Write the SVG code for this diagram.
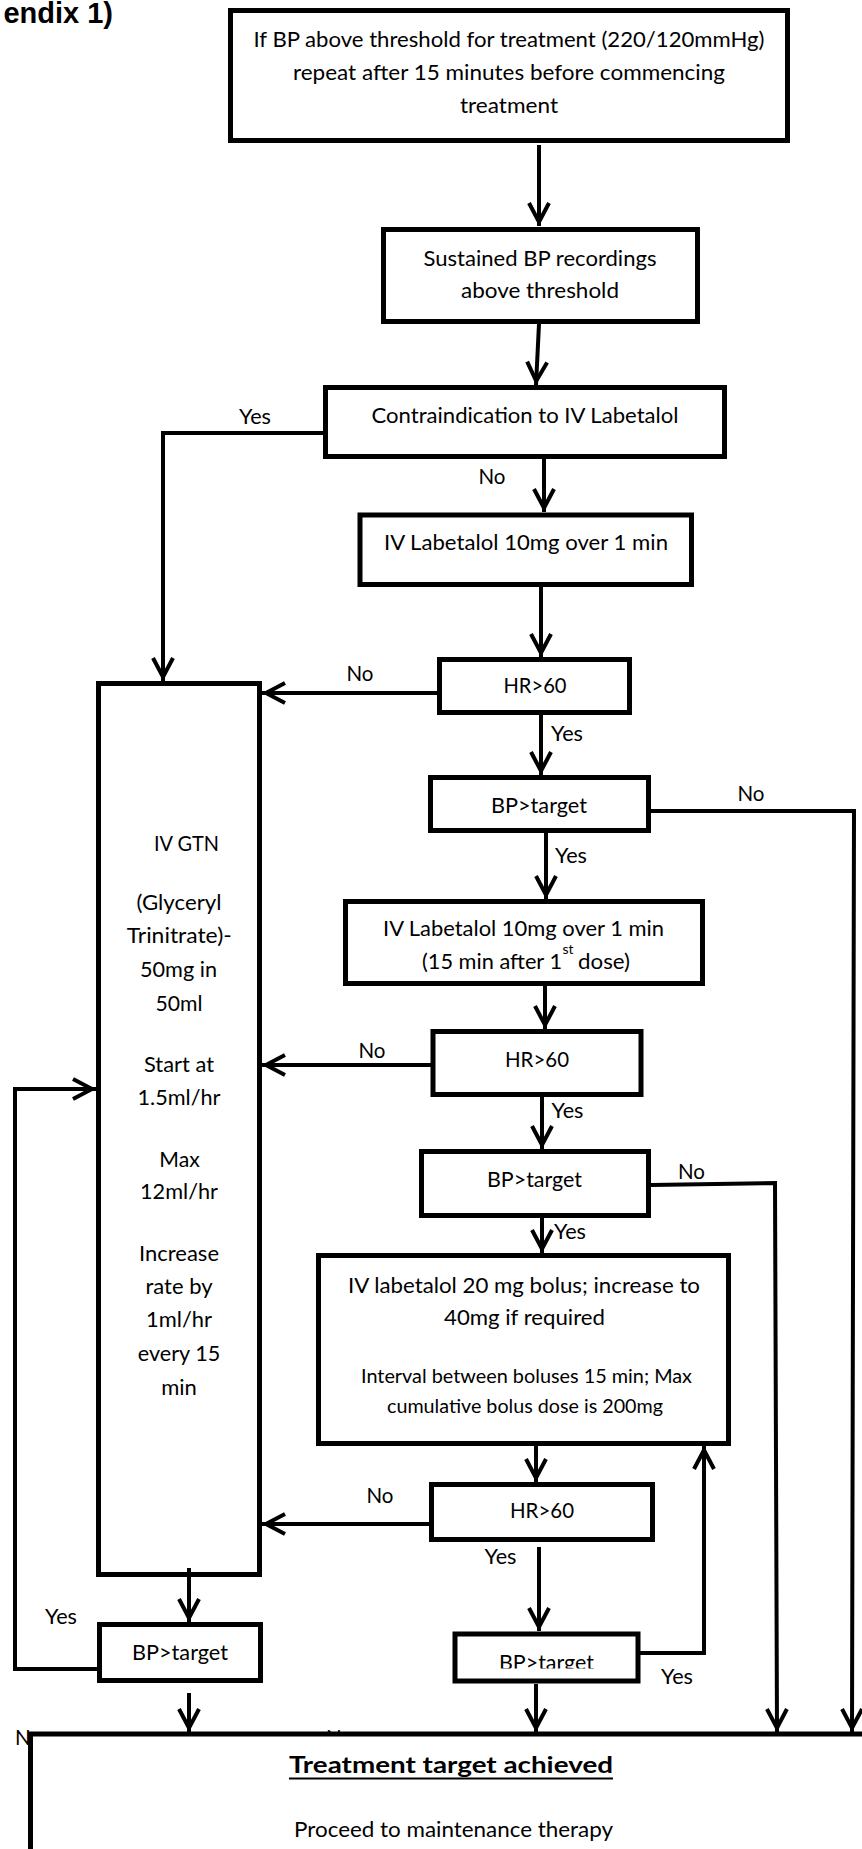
<svg xmlns="http://www.w3.org/2000/svg" width="862" height="1849" viewBox="0 0 862 1849">
<style>
.box{fill:#fff;stroke:#000;stroke-width:5}
.t{font-family:Lato,'Open Sans','Liberation Sans',sans-serif;font-size:22px;fill:#000;text-anchor:middle}
.s{font-size:19.5px}
.st{font-size:13px;text-anchor:start}
.ls{text-anchor:start}
.c{fill:none;stroke:#000;stroke-width:4;stroke-linejoin:miter;marker-end:url(#ah)}
.title{font-family:'Liberation Sans',Arial,sans-serif;font-weight:bold;font-size:29px;text-anchor:end}
</style>
<defs>
<marker id="ah" markerUnits="userSpaceOnUse" viewBox="-28 -14 32 28" markerWidth="32" markerHeight="28" refX="0" refY="0" orient="auto">
<path d="M-23,-10 L-4,0 L-23,10" fill="none" stroke="#000" stroke-width="4"/>
</marker>
<clipPath id="bp4clip"><rect x="455" y="1634" width="183" height="34.5"/></clipPath>
</defs>

<text class="title" x="113" y="23">endix 1)</text>

<g id="box1"><rect class="box" x="230.5" y="10.5" width="557" height="130"/>
<text class="t" x="509" y="47" textLength="511" lengthAdjust="spacingAndGlyphs">If BP above threshold for treatment (220/120mmHg)</text>
<text class="t" x="509" y="80" textLength="432" lengthAdjust="spacingAndGlyphs">repeat after 15 minutes before commencing</text>
<text class="t" x="509" y="113" textLength="98" lengthAdjust="spacingAndGlyphs">treatment</text></g>

<g id="box2"><rect class="box" x="383.5" y="229.5" width="314" height="92"/>
<text class="t" x="540" y="266" textLength="233" lengthAdjust="spacingAndGlyphs">Sustained BP recordings</text>
<text class="t" x="540" y="298" textLength="158" lengthAdjust="spacingAndGlyphs">above threshold</text></g>

<g id="box3"><rect class="box" x="325.5" y="387.5" width="399" height="69"/>
<text class="t" x="525" y="423" textLength="307" lengthAdjust="spacingAndGlyphs">Contraindication to IV Labetalol</text></g>

<g id="box4"><rect class="box" x="360" y="515" width="331.5" height="69.5"/>
<text class="t" x="526" y="550" textLength="284" lengthAdjust="spacingAndGlyphs">IV Labetalol 10mg over 1 min</text></g>

<g id="hr1"><rect class="box" x="439.5" y="659.5" width="190" height="53"/>
<text class="t" x="535" y="693" textLength="63" lengthAdjust="spacingAndGlyphs">HR&gt;60</text></g>

<g id="gtn"><rect class="box" x="98.5" y="683.5" width="161" height="891"/>
<text class="t" x="186.5" y="851" textLength="65" lengthAdjust="spacingAndGlyphs">IV GTN</text>
<text class="t" x="179" y="910" textLength="85" lengthAdjust="spacingAndGlyphs">(Glyceryl</text>
<text class="t" x="179.3" y="943" textLength="105" lengthAdjust="spacingAndGlyphs">Trinitrate)-</text>
<text class="t" x="178.5" y="977" textLength="77" lengthAdjust="spacingAndGlyphs">50mg in</text>
<text class="t" x="179" y="1010.5" textLength="47" lengthAdjust="spacingAndGlyphs">50ml</text>
<text class="t" x="179" y="1071.5" textLength="70" lengthAdjust="spacingAndGlyphs">Start at</text>
<text class="t" x="179" y="1105" textLength="83" lengthAdjust="spacingAndGlyphs">1.5ml/hr</text>
<text class="t" x="179.5" y="1166.5" textLength="40.5" lengthAdjust="spacingAndGlyphs">Max</text>
<text class="t" x="179" y="1199" textLength="78" lengthAdjust="spacingAndGlyphs">12ml/hr</text>
<text class="t" x="179" y="1260.5" textLength="80" lengthAdjust="spacingAndGlyphs">Increase</text>
<text class="t" x="179" y="1294" textLength="67" lengthAdjust="spacingAndGlyphs">rate by</text>
<text class="t" x="179" y="1327" textLength="66" lengthAdjust="spacingAndGlyphs">1ml/hr</text>
<text class="t" x="179" y="1361" textLength="82.5" lengthAdjust="spacingAndGlyphs">every 15</text>
<text class="t" x="179" y="1395" textLength="35.7" lengthAdjust="spacingAndGlyphs">min</text></g>

<g id="bp1"><rect class="box" x="430.5" y="777.5" width="218" height="53"/>
<text class="t" x="539" y="813" textLength="96" lengthAdjust="spacingAndGlyphs">BP&gt;target</text></g>

<g id="box5"><rect class="box" x="345.5" y="901.5" width="357" height="82"/>
<text class="t" x="523.5" y="936" textLength="281" lengthAdjust="spacingAndGlyphs">IV Labetalol 10mg over 1 min</text>
<text class="t ls" x="422" y="969" textLength="140" lengthAdjust="spacingAndGlyphs">(15 min after 1</text>
<text class="t st" x="562.5" y="954" textLength="11" lengthAdjust="spacingAndGlyphs">st</text>
<text class="t ls" x="578" y="969" textLength="52" lengthAdjust="spacingAndGlyphs">dose)</text></g>

<g id="hr2"><rect class="box" x="433" y="1031.5" width="208" height="63"/>
<text class="t" x="537" y="1067" textLength="64" lengthAdjust="spacingAndGlyphs">HR&gt;60</text></g>

<g id="bp2"><rect class="box" x="421.5" y="1151.5" width="227" height="64"/>
<text class="t" x="534.5" y="1187" textLength="95" lengthAdjust="spacingAndGlyphs">BP&gt;target</text></g>

<g id="box6"><rect class="box" x="318.5" y="1255.5" width="410" height="188"/>
<text class="t" x="524" y="1292.5" textLength="352" lengthAdjust="spacingAndGlyphs">IV labetalol 20 mg bolus; increase to</text>
<text class="t" x="524.5" y="1325" textLength="161" lengthAdjust="spacingAndGlyphs">40mg if required</text>
<text class="t s" x="526.5" y="1383" textLength="331" lengthAdjust="spacingAndGlyphs">Interval between boluses 15 min; Max</text>
<text class="t s" x="525" y="1413" textLength="276" lengthAdjust="spacingAndGlyphs">cumulative bolus dose is 200mg</text></g>

<g id="hr3"><rect class="box" x="431.5" y="1484.5" width="221" height="55"/>
<text class="t" x="542" y="1518" textLength="64" lengthAdjust="spacingAndGlyphs">HR&gt;60</text></g>

<g id="bp3"><rect class="box" x="99.5" y="1624.5" width="161" height="56"/>
<text class="t" x="180" y="1660" textLength="96" lengthAdjust="spacingAndGlyphs">BP&gt;target</text></g>

<g id="bp4"><rect class="box" x="455" y="1634" width="183" height="47"/>
<text class="t" x="546.5" y="1670" textLength="95" lengthAdjust="spacingAndGlyphs" clip-path="url(#bp4clip)">BP&gt;target</text></g>

<g id="connectors">
<path class="c" d="M539,145 L539,226"/>
<path class="c" d="M539,324 L536,385"/>
<path class="c" d="M323,433 L163,433 L163,681"/>
<path class="c" d="M544,459 L544,512"/>
<path class="c" d="M541,587 L541,657"/>
<path class="c" d="M437,693 L262,693"/>
<path class="c" d="M541,715 L541,775"/>
<path class="c" d="M651,811 L854,811 L852,1732"/>
<path class="c" d="M546,833 L546,899"/>
<path class="c" d="M545,986 L545,1029"/>
<path class="c" d="M431,1065 L262,1065"/>
<path class="c" d="M542,1096 L542,1149"/>
<path class="c" d="M651,1185 L775,1183 L777,1732"/>
<path class="c" d="M542,1218 L542,1253"/>
<path class="c" d="M536,1446 L536,1482"/>
<path class="c" d="M429,1524 L262,1524"/>
<path class="c" d="M539,1547 L539,1631"/>
<path class="c" d="M640,1653 L704,1653 L704,1446"/>
<path class="c" d="M189,1568 L189,1622"/>
<path class="c" d="M97,1669 L15,1669 L15,1089 L96,1089"/>
<path class="c" d="M189,1693 L189,1732"/>
<path class="c" d="M536,1684 L536,1732"/>
<g id="labels">
<text class="t" x="255" y="424" textLength="32" lengthAdjust="spacingAndGlyphs">Yes</text>
<text class="t" x="492" y="484" textLength="27" lengthAdjust="spacingAndGlyphs">No</text>
<text class="t" x="360" y="681" textLength="27" lengthAdjust="spacingAndGlyphs">No</text>
<text class="t" x="567" y="741" textLength="32" lengthAdjust="spacingAndGlyphs">Yes</text>
<text class="t" x="751" y="801" textLength="27" lengthAdjust="spacingAndGlyphs">No</text>
<text class="t" x="571" y="863" textLength="32" lengthAdjust="spacingAndGlyphs">Yes</text>
<text class="t" x="372" y="1058" textLength="27" lengthAdjust="spacingAndGlyphs">No</text>
<text class="t" x="567.5" y="1118" textLength="32" lengthAdjust="spacingAndGlyphs">Yes</text>
<text class="t" x="691.5" y="1179" textLength="27" lengthAdjust="spacingAndGlyphs">No</text>
<text class="t" x="570" y="1239" textLength="32" lengthAdjust="spacingAndGlyphs">Yes</text>
<text class="t" x="380" y="1503" textLength="27" lengthAdjust="spacingAndGlyphs">No</text>
<text class="t" x="500.5" y="1564" textLength="32" lengthAdjust="spacingAndGlyphs">Yes</text>
<text class="t" x="61" y="1624" textLength="32" lengthAdjust="spacingAndGlyphs">Yes</text>
<text class="t" x="677" y="1684" textLength="32" lengthAdjust="spacingAndGlyphs">Yes</text>
<text class="t ls" x="15" y="1745" textLength="27" lengthAdjust="spacingAndGlyphs">No</text>
<text class="t ls" x="326" y="1745" textLength="27" lengthAdjust="spacingAndGlyphs">No</text>
</g>
</g>

<g id="final"><rect class="box" x="30.5" y="1734" width="900" height="200"/>
<text class="t" x="451" y="1773" font-size="28" font-weight="bold" textLength="324" lengthAdjust="spacingAndGlyphs">Treatment target achieved</text>
<line x1="289" y1="1778.5" x2="613" y2="1778.5" stroke="#000" stroke-width="2"/>
<text class="t" x="453.5" y="1837" textLength="319" lengthAdjust="spacingAndGlyphs">Proceed to maintenance therapy</text></g>
</svg>
